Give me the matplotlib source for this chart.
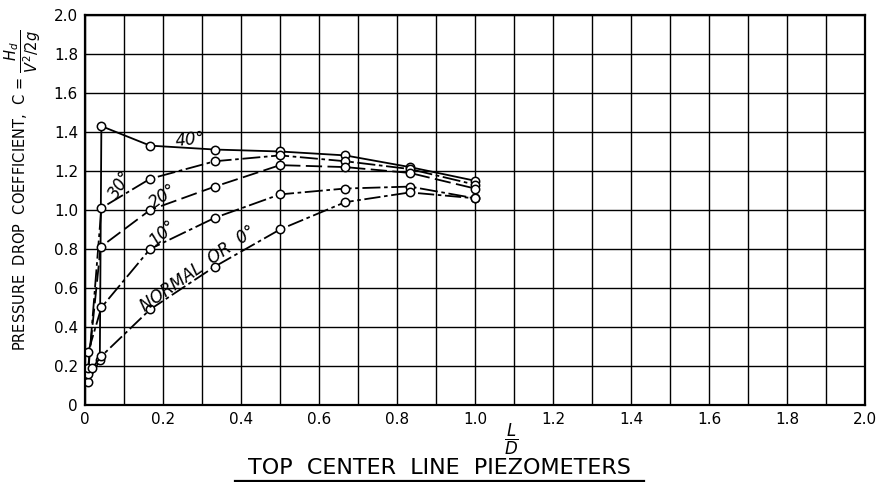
import matplotlib.pyplot as plt
import numpy as np
from matplotlib.lines import Line2D

# L/D stations of the piezometers along the top centre line
x_40 = [0.008, 0.038, 0.042, 0.167, 0.333, 0.5, 0.667, 0.833, 1.0]
c_40 = [0.12, 0.23, 1.43, 1.33, 1.31, 1.30, 1.28, 1.22, 1.15]

x_30 = [0.008, 0.042, 0.167, 0.333, 0.5, 0.667, 0.833, 1.0]
c_30 = [0.16, 1.01, 1.16, 1.25, 1.28, 1.25, 1.21, 1.13]

x_20 = [0.008, 0.040, 0.167, 0.333, 0.5, 0.667, 0.833, 1.0]
c_20 = [0.19, 0.81, 1.00, 1.12, 1.23, 1.22, 1.19, 1.11]

x_10 = [0.008, 0.042, 0.167, 0.333, 0.5, 0.667, 0.833, 1.0]
c_10 = [0.27, 0.50, 0.80, 0.96, 1.08, 1.11, 1.12, 1.06]

x_0 = [0.019, 0.042, 0.167, 0.333, 0.5, 0.667, 0.833, 1.0]
c_0 = [0.19, 0.25, 0.49, 0.71, 0.90, 1.04, 1.09, 1.06]

x_ticks = np.round(np.arange(0, 2.01, 0.2), 1)
x_ticklabels = ["0", "0.2", "0.4", "0.6", "0.8", "1.0", "1.2", "1.4", "1.6", "1.8", "2.0"]
y_ticks = np.round(np.arange(0, 2.01, 0.2), 1)
y_ticklabels = ["0", "0.2", "0.4", "0.6", "0.8", "1.0", "1.2", "1.4", "1.6", "1.8", "2.0"]

plt.rcParams['font.family'] = ['DejaVu Sans']

fig = plt.figure(figsize=(8.78, 4.82), dpi=100)
ax = fig.add_axes([0.0968, 0.1598, 0.8884, 0.8091])

style = dict(color='black', lw=1.3, marker='o', ms=6, mfc='white', mec='black', mew=1.1)
ax.plot(x_40, c_40, ls='-', **style)
ax.plot(x_30, c_30, ls=(0, (10, 2, 2, 2)), **style)
ax.plot(x_20, c_20, ls=(0, (9, 3)), **style)
ax.plot(x_10, c_10, ls=(0, (10, 2, 2, 2)), **style)
ax.plot(x_0, c_0, ls=(0, (9, 2, 2, 2)), **style)

# curve labels
lab = dict(fontsize=12, style='italic', ha='center', va='center')
ax.text(0.27, 1.36, "40°", rotation=5, **lab)
ax.text(0.09, 1.13, "30°", rotation=58, **lab)
ax.text(0.20, 1.07, "20°", rotation=35, **lab)
ax.text(0.20, 0.88, "10°", rotation=42, **lab)
ax.text(0.29, 0.70, "NORMAL  OR  0°", rotation=35, **lab)

ax.set_xlim(0, 2.0)
ax.set_ylim(0, 2.0)
ax.set_xticks(x_ticks)
ax.set_xticklabels(x_ticklabels, fontsize=11)
ax.set_yticks(y_ticks)
ax.set_yticklabels(y_ticklabels, fontsize=11)
ax.tick_params(length=0, pad=5)
ax.set_xticks(np.arange(0, 2.01, 0.1), minor=True)
ax.tick_params(which='minor', length=0)
ax.grid(True, which='both', axis='x', color='black', lw=1.0)
ax.grid(True, which='major', axis='y', color='black', lw=1.0)
ax.set_axisbelow(True)
for s in ax.spines.values():
    s.set_linewidth(1.6)

ax.set_ylabel(r"PRESSURE  DROP  COEFFICIENT,  C = $\dfrac{H_d}{V^2/2g}$",
              fontsize=10.5)
ax.yaxis.set_label_coords(-0.054, 0.55)

fig.text(0.583, 0.088, r"$\dfrac{L}{D}$", fontsize=12, ha='center', va='center')
fig.text(0.50, 0.030, "TOP  CENTER  LINE  PIEZOMETERS", fontsize=16,
         ha='center', va='center')
fig.add_artist(Line2D([0.268, 0.733], [0.003, 0.003], color='black', lw=1.6,
                      transform=fig.transFigure))

fig.savefig("out.png", dpi=100)
